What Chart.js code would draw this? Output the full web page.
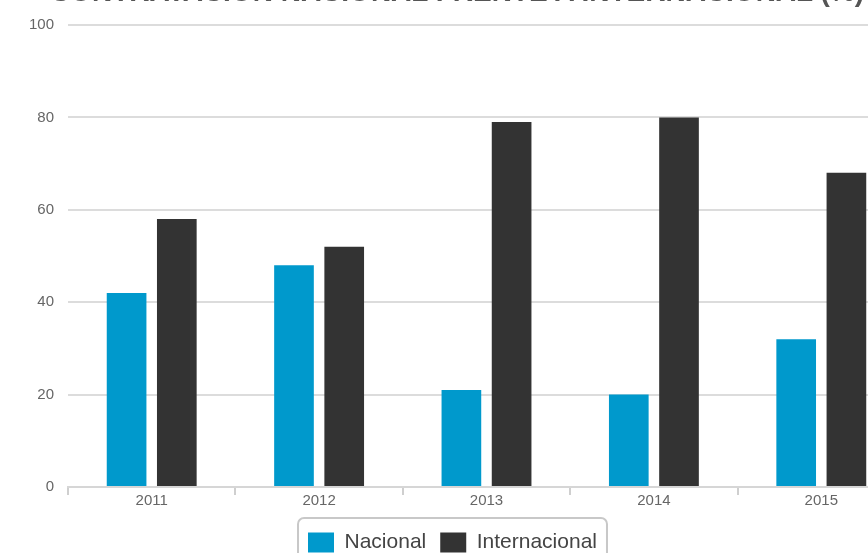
<!DOCTYPE html>
<html>
<head>
<meta charset="utf-8">
<script src="https://cdn.jsdelivr.net/npm/chart.js@4"></script>
<style>
  html, body { margin: 0; padding: 0; background: #fff; overflow: hidden; }
  #wrap { position: relative; width: 914px; height: 563px; }
  #title {
    position: absolute; left: 0; top: -22px; width: 914px;
    text-align: center; font: bold 28px "Liberation Sans", Arial, sans-serif;
    line-height: 28px; color: #555; white-space: nowrap;
  }
</style>
</head>
<body>
<div id="wrap">
  <canvas id="myChart" width="914" height="563"></canvas>
  <div id="title">CONTRATACIÓN NACIONAL FRENTE A INTERNACIONAL (%)</div>
</div>
<script>
const years = ['2011', '2012', '2013', '2014', '2015'];
const nacional = [42, 48, 21, 20, 32];
const internacional = [58, 52, 79, 80, 68];
const yTicks = [0, 20, 40, 60, 80, 100];

const ctx = document.getElementById('myChart').getContext('2d');

// draws the rounded frame round the legend
const legendFrame = {
  id: 'legendFrame',
  afterDraw(chart) {
    const boxes = chart.legend.legendHitBoxes;
    if (!boxes || !boxes.length) return;
    const left = Math.min(...boxes.map(b => b.left)) - 10;
    const right = Math.max(...boxes.map(b => b.left + b.width)) + 10;
    const top = Math.min(...boxes.map(b => b.top)) - 14;
    const bottom = Math.max(...boxes.map(b => b.top + b.height)) + 14;
    const c = chart.ctx;
    c.save();
    c.strokeStyle = '#c8c8c8';
    c.lineWidth = 2;
    c.beginPath();
    c.roundRect(left, top, right - left, bottom - top, 6);
    c.stroke();
    c.restore();
  }
};

Chart.defaults.font.family = '"Liberation Sans", Arial, sans-serif';

const chart = new Chart(ctx, {
  type: 'bar',
  data: {
    labels: years,
    datasets: [{
      label: 'Nacional',
      data: nacional,
      backgroundColor: '#0099cc',
      barPercentage: 0.79,
      categoryPercentage: 0.6
    }, {
      label: 'Internacional',
      data: internacional,
      backgroundColor: '#333333',
      barPercentage: 0.79,
      categoryPercentage: 0.6
    }]
  },
  options: {
    responsive: false,
    animation: false,
    layout: { padding: { top: 25, right: 9, left: 0, bottom: 0 } },
    plugins: {
      title: { display: false },
      tooltip: { enabled: false },
      legend: {
        position: 'bottom',
        labels: {
          boxWidth: 26,
          boxHeight: 20,
          padding: 14,
          color: '#444',
          font: { size: 21 }
        }
      }
    },
    scales: {
      x: {
        grid: { drawOnChartArea: false, drawTicks: true, tickLength: 8, color: '#cfcfcf', lineWidth: 2 },
        border: { color: '#d6d6d6', width: 2 },
        ticks: { color: '#666', font: { size: 15 }, padding: -3 },
        afterFit: axis => { axis.height = 31; }
      },
      y: {
        min: 0,
        max: 100,
        afterBuildTicks: axis => { axis.ticks = yTicks.map(v => ({ value: v })); },
        afterFit: axis => { axis.width = 68; },
        grid: { drawTicks: false, color: '#dcdcdc', lineWidth: 2 },
        border: { display: false },
        ticks: { color: '#666', font: { size: 15 }, padding: 14 }
      }
    }
  },
  plugins: [legendFrame]
});
</script>
</body>
</html>
